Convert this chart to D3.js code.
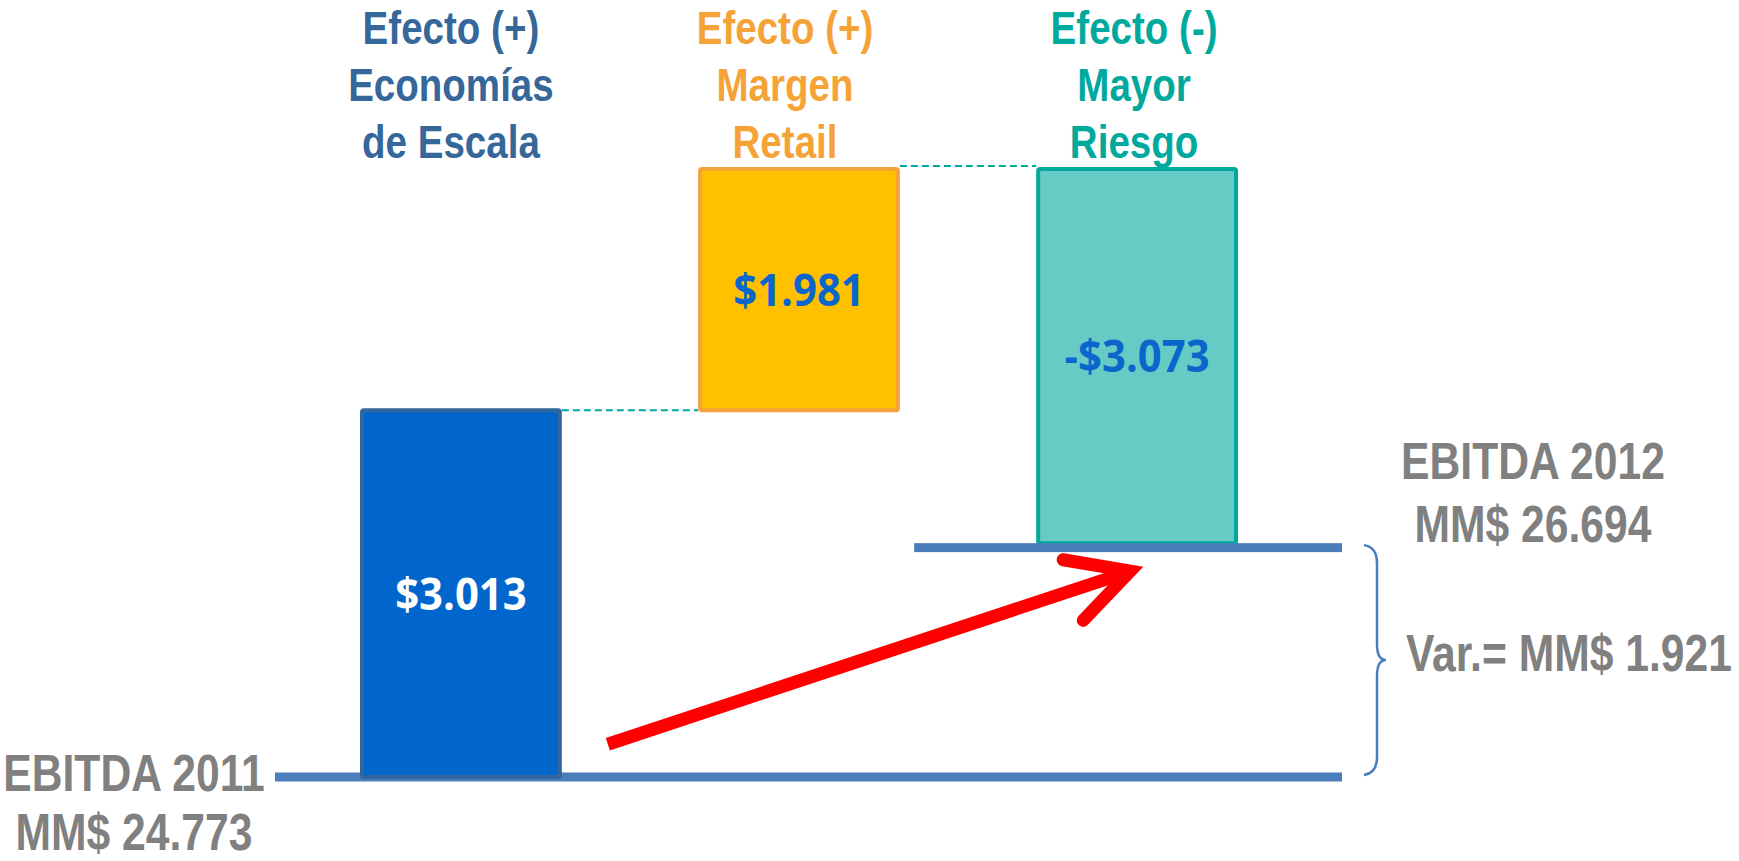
<!DOCTYPE html>
<meta charset="utf-8">
<style>
body { margin: 0; background: #fff; }
.narrow { font-family: "Liberation Sans", Arial, sans-serif; font-weight: bold; }
.value { font-family: "Open Sans", sans-serif; font-weight: bold; font-size: 45px; text-anchor: middle; }
</style>
<body>
<script src="https://cdn.jsdelivr.net/npm/d3@7/dist/d3.min.js"></script>
<script>

var categories = ["Economías de Escala", "Margen Retail", "Mayor Riesgo"];
var effects = [3.013, 1.981, -3.073];
var titleLines = [["Efecto (+)", "Economías", "de Escala"],
                  ["Efecto (+)", "Margen", "Retail"],
                  ["Efecto (-)", "Mayor", "Riesgo"]];
var ebitdaYears = ["2011", "2012"];
var ebitdaValues = [24.773, 26.694];

var width = 1739, height = 861;
var fills = ["#0066cc", "#ffc000", "#66cbc4"],
    strokes = ["#31679c", "#f5a23a", "#00a99d"],
    titleColors = ["#35679a", "#f5a236", "#00a99d"],
    valueColors = ["#ffffff", "#0a66cc", "#0a66cc"],
    titleShift = [-10, -14, -3],
    lineColor = "#4a7ebb",
    grey = "#808080";

var fmt = d3.format(".3f");

// running totals for the waterfall
var steps = [];
var level = ebitdaValues[0];
effects.forEach(function(d, i) {
  steps.push({name: categories[i], start: level, end: level + d, value: d, i: i});
  level += d;
});
var peak = d3.max(steps, function(d) { return Math.max(d.start, d.end); });

var x = d3.scaleBand()
    .domain(categories)
    .range([360, 1238])
    .paddingInner(0.403);

var y = d3.scaleLinear()
    .domain([ebitdaValues[0], peak])
    .range([777, 169]);

var bw = x.bandwidth();

var svg = d3.select("body").append("svg")
    .attr("width", width)
    .attr("height", height);

// base line 2011
var y0 = y(ebitdaValues[0]), y1 = y(ebitdaValues[1]);
var lineRight = x(categories[2]) + bw + 104;
svg.append("rect")
    .attr("x", x(categories[0]) - 85)
    .attr("y", y0 - 4.5)
    .attr("width", lineRight - (x(categories[0]) - 85))
    .attr("height", 9)
    .attr("fill", lineColor);

// dashed connectors
for (var k = 0; k < steps.length - 1; k++) {
  svg.append("line")
      .attr("x1", x(steps[k].name) + bw)
      .attr("x2", x(steps[k + 1].name))
      .attr("y1", y(steps[k].end) - (k ? 3 : 0))
      .attr("y2", y(steps[k].end) - (k ? 3 : 0))
      .attr("stroke", "#00a99d")
      .attr("stroke-width", 2)
      .attr("stroke-dasharray", "7,4");
}

// bars
var bar = svg.selectAll(".bar").data(steps).enter().append("g").attr("class", "bar");
bar.append("rect")
    .attr("x", function(d) { return x(d.name) + 2; })
    .attr("width", bw - 4)
    .attr("y", function(d) { return y(Math.max(d.start, d.end)); })
    .attr("height", function(d) { return Math.abs(y(d.start) - y(d.end)); })
    .attr("rx", 2)
    .attr("fill", function(d) { return fills[d.i]; })
    .attr("stroke", function(d) { return strokes[d.i]; })
    .attr("stroke-width", 4);

bar.append("text")
    .attr("class", "value")
    .attr("transform", function(d) {
      return "translate(" + (x(d.name) + bw / 2) + "," + ((y(d.start) + y(d.end)) / 2 + 16) + ") scale(0.93,1)";
    })
    .attr("fill", function(d) { return valueColors[d.i]; })
    .text(function(d) { return (d.value < 0 ? "-$" : "$") + fmt(Math.abs(d.value)); });

// titles above each bar
steps.forEach(function(d) {
  titleLines[d.i].forEach(function(t, j) {
    svg.append("text")
        .attr("class", "narrow")
        .attr("transform", "translate(" + (x(d.name) + bw / 2 + titleShift[d.i]) + "," + (44 + j * 57) + ") scale(0.82,1)")
        .attr("text-anchor", "middle")
        .attr("font-size", 47)
        .attr("fill", titleColors[d.i])
        .text(t);
  });
});

// line 2012
svg.append("rect")
    .attr("x", x(categories[2]) - 122)
    .attr("y", y1)
    .attr("width", lineRight - (x(categories[2]) - 122))
    .attr("height", 9)
    .attr("fill", lineColor);

// red arrow, from the 2011 level up toward the 2012 level
var gap = y0 - y1;
var tail = [x(categories[0]) + bw + 46, y0 - 0.14 * gap],
    tip = [x(categories[2]) + 94, y1 + 0.12 * gap];
var ang = Math.atan2(tail[1] - tip[1], tail[0] - tip[0]);
var armLen = 68, spread = 28 * Math.PI / 180;
svg.append("line")
    .attr("x1", tail[0]).attr("y1", tail[1])
    .attr("x2", tip[0] + 6 * Math.cos(ang)).attr("y2", tip[1] + 6 * Math.sin(ang))
    .attr("stroke", "#ff0000")
    .attr("stroke-width", 13);
svg.append("path")
    .attr("d", d3.line()([
      [tip[0] + armLen * Math.cos(ang - spread), tip[1] + armLen * Math.sin(ang - spread)],
      tip,
      [tip[0] + armLen * Math.cos(ang + spread), tip[1] + armLen * Math.sin(ang + spread)]
    ]))
    .attr("fill", "none")
    .attr("stroke", "#ff0000")
    .attr("stroke-width", 13)
    .attr("stroke-linecap", "round")
    .attr("stroke-linejoin", "miter");

// brace between the two EBITDA levels
var bx = lineRight + 22, mid = (y0 + y1) / 2;
svg.append("path")
    .attr("d", "M" + bx + "," + (y1 + 2) +
      " Q" + (bx + 13) + "," + (y1 + 4) + " " + (bx + 13) + "," + (y1 + 20) +
      " L" + (bx + 13) + "," + (mid - 16) +
      " Q" + (bx + 13) + "," + mid + " " + (bx + 22) + "," + mid +
      " Q" + (bx + 13) + "," + mid + " " + (bx + 13) + "," + (mid + 16) +
      " L" + (bx + 13) + "," + (y0 - 20) +
      " Q" + (bx + 13) + "," + (y0 - 4) + " " + bx + "," + (y0 - 2))
    .attr("fill", "none")
    .attr("stroke", lineColor)
    .attr("stroke-width", 2.5);

// EBITDA labels
function narrowText(tx, ty, anchor, s) {
  svg.append("text")
      .attr("class", "narrow")
      .attr("transform", "translate(" + tx + "," + ty + ") scale(0.82,1)")
      .attr("text-anchor", anchor)
      .attr("font-size", 52)
      .attr("fill", grey)
      .text(s);
}
narrowText(134, 791, "middle", "EBITDA " + ebitdaYears[0]);
narrowText(134, 850, "middle", "MM$ " + fmt(ebitdaValues[0]));
narrowText(1533, 479, "middle", "EBITDA " + ebitdaYears[1]);
narrowText(1533, 542, "middle", "MM$ " + fmt(ebitdaValues[1]));
narrowText(1406, 671, "start", "Var.= MM$ " + fmt(ebitdaValues[1] - ebitdaValues[0]));

</script>
</body>
</html>
